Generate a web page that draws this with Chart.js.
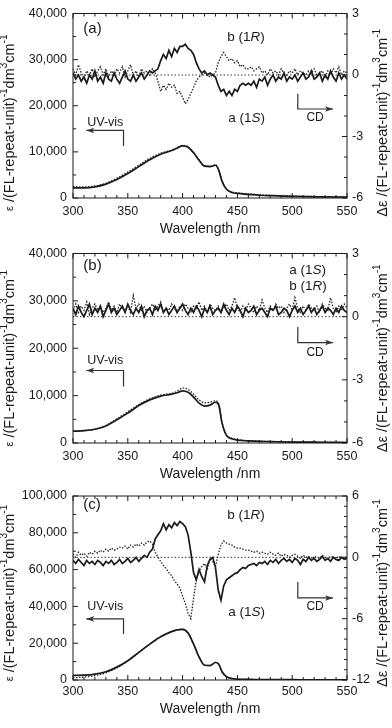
<!DOCTYPE html>
<html>
<head>
<meta charset="utf-8">
<script src="https://cdn.jsdelivr.net/npm/chart.js@4.4.1/dist/chart.umd.min.js"></script>
<style>
  html, body { margin: 0; padding: 0; background: #fff; }
  body { width: 392px; height: 728px; position: relative; overflow: hidden; }
  .panel { position: absolute; left: 0; width: 392px; }
</style>
</head>
<body>
<div class="panel" style="top:0;height:240px"><canvas id="ca"></canvas></div>
<div class="panel" style="top:240px;height:244px"><canvas id="cb"></canvas></div>
<div class="panel" style="top:480px;height:248px"><canvas id="cc"></canvas></div>
<script>
const FONT = '"Liberation Sans", Arial, sans-serif';
const INK = '#1a1a1a';

// wavelengths (nm)
const uvWl = [300,310,320,330,340,350,360,370,380,390,395,400,405,410,415,420,425,430,433,436,440,445,450,460,470,480,500,525,550];
const cdWl = [
  300,302.5,305,307.5,310,312.5,315,317.5,320,322.5,
  325,327.5,330,332.5,335,337.5,340,342.5,345,347.5,
  350,352.5,355,357.5,360,362.5,365,367.5,370,372.5,
  375,377.5,380,382.5,385,387.5,390,392.5,395,397.5,
  400,402.5,405,407.5,410,412.5,415,417.5,420,422.5,
  425,427.5,430,432.5,435,437.5,440,442.5,445,447.5,
  450,452.5,455,457.5,460,462.5,465,467.5,470,472.5,
  475,477.5,480,482.5,485,487.5,490,492.5,495,497.5,
  500,502.5,505,507.5,510,512.5,515,517.5,520,522.5,
  525,527.5,530,532.5,535,537.5,540,542.5,545,547.5,
  550];
const zeroWl = [300, 550];
const zeroDe = [0, 0];

// (a) UV-vis, epsilon
const uvA_a = [2200,2200,2400,3000,4000,5300,6800,8300,9500,10300,10800,11300,11000,9800,8200,6900,6800,7100,6000,3600,1900,1200,1000,800,600,500,350,250,200];
const uvB_a = [2500,2400,2600,3200,4300,5600,7100,8600,9700,10400,10900,11400,11100,9900,8300,7000,6900,7200,6100,3700,2000,1300,1100,900,700,600,400,300,250];
// (a) CD, delta epsilon
const cdA_a = [
  0.1,-0.2,0.0,-0.3,-0.1,-0.4,0.0,-0.2,0.2,-0.3,
  -0.1,-0.4,0.1,-0.2,-0.3,0.1,-0.2,-0.4,-0.1,0.2,
  -0.2,-0.3,0.0,-0.3,-0.1,0.1,-0.2,0.0,0.2,0.1,
  0.2,0.3,0.7,1.0,0.8,1.2,0.9,1.3,1.1,1.4,
  1.4,1.5,1.3,1.2,1.0,0.6,0.3,0.1,0.2,0.0,
  0.1,0.0,-0.1,-0.5,-0.8,-0.7,-1.0,-0.8,-1.0,-0.7,
  -0.8,-0.5,-0.4,-0.5,-0.4,-0.5,-0.3,-0.6,-0.2,-0.3,
  -0.1,-0.5,-0.2,0.0,-0.3,-0.1,-0.2,0.1,-0.3,-0.1,
  -0.2,0.0,-0.3,-0.1,0.1,-0.2,-0.1,0.2,-0.2,-0.1,
  0.1,-0.3,0.0,-0.2,0.2,-0.1,-0.3,0.1,-0.2,0.0,
  -0.2];
const cdB_a = [
  0.3,0.0,0.5,0.1,-0.2,0.2,0.0,0.3,-0.1,0.2,
  0.4,0.0,0.3,-0.1,0.2,0.0,0.3,0.1,0.4,-0.1,
  0.2,0.5,0.0,0.2,-0.1,0.3,0.1,0.2,0.0,0.3,
  0.1,-0.3,-0.8,-0.5,-0.7,-0.4,-0.6,-0.5,-0.9,-0.8,
  -1.1,-1.4,-1.2,-0.9,-0.6,-0.3,-0.1,0.0,0.1,0.0,
  -0.1,0.0,0.1,0.6,0.9,1.1,0.9,0.7,0.8,0.6,
  0.7,0.4,0.5,0.3,0.3,0.4,0.2,0.3,0.4,0.1,
  0.2,0.0,0.3,0.1,0.2,0.0,0.3,0.1,0.0,0.2,
  0.1,0.3,0.0,0.2,0.1,0.0,0.2,0.1,0.3,0.0,
  0.1,0.2,-0.1,0.2,0.0,0.3,0.1,0.4,0.0,0.2,
  0.1];

// (b)
const uvA_b = [2500,2600,2900,3600,4900,6300,7900,9100,9900,10300,10600,11000,10700,9700,8400,7800,8000,8600,8000,4200,1600,900,600,450,350,300,200,150,100];
const uvB_b = [2500,2600,2900,3700,5100,6600,8100,9300,10100,10500,10900,11600,11300,10300,9100,8500,8600,8900,8300,4400,1700,1000,700,500,400,300,250,200,150];
const cdA_b = [
  0.4,0.1,0.5,0.2,0.0,0.3,0.6,0.1,0.4,0.2,
  0.5,0.0,0.3,0.6,0.2,0.4,0.1,0.3,0.5,0.2,
  0.6,0.3,0.1,0.4,0.2,0.5,0.0,0.3,0.4,0.1,
  0.5,0.3,0.6,0.2,0.4,0.1,0.3,0.5,0.2,0.4,
  0.6,0.3,0.1,0.4,0.2,0.5,0.3,0.0,0.4,0.2,
  0.5,0.1,0.3,0.4,0.2,0.6,0.3,0.1,0.4,0.2,
  0.5,0.3,0.0,0.4,0.2,0.3,0.5,0.1,0.3,0.4,
  0.2,0.0,0.4,0.3,0.5,0.1,0.2,0.4,0.3,0.0,
  0.3,0.5,0.2,0.4,0.1,0.3,0.5,0.2,0.4,0.1,
  0.3,0.5,0.2,0.4,0.3,0.1,0.4,0.2,0.5,0.3,
  0.2];
const cdB_b = [
  0.3,0.6,0.2,0.5,0.3,0.7,0.1,0.4,0.6,0.3,
  0.5,0.2,0.4,0.7,0.3,0.5,0.2,0.6,0.4,0.3,
  0.5,0.2,1.0,0.4,0.6,0.3,0.5,0.2,0.4,0.6,
  0.3,0.5,0.7,0.2,0.4,0.3,0.6,0.4,0.2,0.5,
  0.3,0.6,0.4,0.2,0.5,0.4,0.7,0.3,0.5,0.2,
  0.6,0.4,0.3,0.5,0.2,0.4,0.6,0.3,0.5,0.9,
  0.4,0.2,0.5,0.3,0.6,0.4,0.2,0.5,0.3,0.8,
  0.4,0.2,0.5,0.3,0.6,0.4,0.5,0.2,0.4,0.6,
  0.3,0.9,0.4,0.2,0.5,0.3,0.6,0.4,0.3,0.5,
  0.2,0.6,0.4,0.3,0.9,0.4,0.2,0.5,0.3,0.6,
  0.4];

// (c)
const uvA_c = [2500,2600,3200,4500,7000,10500,15000,19500,23500,26300,27200,27500,25500,19500,12500,8000,7800,9500,8500,4500,1800,800,500,300,250,200,150,100,100];
const uvB_c = [1200,1600,2400,3900,6600,10300,14900,19500,23600,26400,27300,27600,25600,19600,12600,8100,7900,9600,8500,4400,1700,700,400,300,200,200,100,100,100];
const cdA_c = [
  -0.3,-0.6,-0.2,-0.5,-0.8,-0.3,-0.6,-0.4,-0.7,-0.3,
  -0.5,-0.8,-0.4,-0.6,-0.3,-0.7,-0.5,-0.2,-0.6,-0.4,
  -0.1,-0.5,-0.3,0.0,-0.4,-0.1,0.2,0.0,0.5,0.8,
  1.8,2.2,2.6,3.3,2.7,3.2,2.9,3.4,3.1,3.5,
  3.3,3.0,2.2,0.5,-1.5,-2.2,-1.2,-1.9,-2.4,-0.8,
  -0.2,0.0,-1.0,-3.2,-4.2,-2.8,-2.2,-2.0,-1.8,-1.6,
  -1.5,-1.2,-1.0,-1.1,-0.8,-0.7,-0.6,-0.8,-0.5,-0.6,
  -0.4,-0.7,-0.3,-0.5,-0.2,-0.6,-0.3,-0.1,-0.4,-0.2,
  -0.5,-0.1,-0.3,-0.7,-0.2,-0.4,0.0,-0.3,-0.1,-0.4,
  -0.2,0.1,-0.3,-0.1,-0.4,0.0,-0.2,-0.3,0.0,-0.2,
  -0.1];
const cdB_c = [
  0.3,0.0,0.5,0.2,0.4,0.1,0.5,0.3,0.6,0.4,
  0.7,0.5,0.8,0.6,0.9,0.7,0.8,1.0,0.9,1.1,
  0.8,1.2,1.0,1.3,1.1,1.4,1.2,1.5,1.6,1.3,
  0.5,0.0,-0.4,-0.8,-1.1,-1.5,-1.8,-2.3,-2.6,-3.0,
  -3.8,-4.5,-5.5,-6.0,-4.0,-2.2,-1.4,-0.9,-0.6,-1.2,
  -0.1,-0.4,-0.9,0.3,1.2,1.6,1.4,1.3,1.2,1.0,
  0.9,0.9,0.8,0.7,0.7,0.6,0.5,0.6,0.4,0.5,
  0.4,0.3,0.5,0.3,0.2,0.4,0.1,0.3,0.2,0.0,
  0.2,0.3,0.1,-0.1,0.2,0.0,0.1,-0.2,0.1,0.0,
  -0.1,0.2,0.0,-0.2,0.1,0.0,-0.1,0.1,0.0,-0.1,
  0.1];

// text pieces
const epsTitle = [{t:'ε', s:11}, {t:' /(FL-repeat-unit)'}, {t:'-1', s:10, up:5.5}, {t:'dm'}, {t:'3', s:10, up:5.5}, {t:'cm'}, {t:'-1', s:10, up:5.5}];
const dEpsTitle = [{t:'Δε /(FL-repeat-unit)'}, {t:'-1', s:10, up:5.5}, {t:'dm'}, {t:'3', s:10, up:5.5}, {t:'cm'}, {t:'-1', s:10, up:5.5}];
const lab1R = [{t:'b (1'}, {t:'R', it:true}, {t:')'}];
const lab1S = [{t:'a (1'}, {t:'S', it:true}, {t:')'}];

function fontOf(seg, base) {
  return (seg.it ? 'italic ' : '') + (seg.s || base) + 'px ' + FONT;
}
function drawRich(ctx, segs, x, y, align, base) {
  let w = 0;
  segs.forEach(s => { ctx.font = fontOf(s, base); w += ctx.measureText(s.t).width; });
  let cx = align === 'center' ? x - w / 2 : x;
  ctx.textAlign = 'left';
  ctx.textBaseline = 'middle';
  segs.forEach(s => {
    ctx.font = fontOf(s, base);
    ctx.fillText(s.t, cx, y - (s.up || 0));
    cx += ctx.measureText(s.t).width;
  });
}

const deco = {
  id: 'deco',
  afterDraw(chart, args, o) {
    const {ctx, chartArea: a, scales} = chart;
    const x = scales.x, y = scales.y, y2 = scales.y2;
    ctx.save();
    ctx.strokeStyle = INK;
    ctx.fillStyle = INK;
    ctx.lineWidth = 1;
    ctx.strokeRect(a.left, a.top, a.right - a.left, a.bottom - a.top);
    ctx.beginPath();
    x.ticks.forEach(t => {
      const p = x.getPixelForValue(t.value);
      const l = t.value % 50 === 0 ? 5 : 3;
      ctx.moveTo(p, a.bottom); ctx.lineTo(p, a.bottom - l);
      ctx.moveTo(p, a.top); ctx.lineTo(p, a.top + l);
    });
    y.ticks.forEach(t => {
      const p = y.getPixelForValue(t.value);
      const l = t.value % o.epsMajor === 0 ? 5 : 3;
      ctx.moveTo(a.left, p); ctx.lineTo(a.left + l, p);
    });
    y2.ticks.forEach(t => {
      const p = y2.getPixelForValue(t.value);
      const l = t.value % o.dMajor === 0 ? 5 : 3;
      ctx.moveTo(a.right, p); ctx.lineTo(a.right - l, p);
    });
    ctx.stroke();

    // rotated axis titles
    const cy = (a.top + a.bottom) / 2 + o.titleShift;
    [[epsTitle, 10], [dEpsTitle, 383]].forEach(([segs, tx]) => {
      ctx.save();
      ctx.translate(tx, cy);
      ctx.rotate(-Math.PI / 2);
      drawRich(ctx, segs, 0, 0, 'center', 14.5);
      ctx.restore();
    });

    // notes and arrows
    ctx.strokeStyle = '#333';
    ctx.fillStyle = INK;
    o.notes.forEach(n => {
      if (n.arrow) {
        const pts = n.arrow.map(([wx, wy]) => [x.getPixelForValue(wx), y.getPixelForValue(wy)]);
        ctx.lineWidth = 1.2;
        ctx.beginPath();
        pts.forEach(([px, py], i) => i ? ctx.lineTo(px, py) : ctx.moveTo(px, py));
        ctx.stroke();
        const [tx, ty] = pts[pts.length - 1];
        const [fx, fy] = pts[pts.length - 2];
        const ang = Math.atan2(ty - fy, tx - fx);
        ctx.save();
        ctx.translate(tx, ty);
        ctx.rotate(ang);
        ctx.fillStyle = '#333';
        ctx.beginPath();
        ctx.moveTo(0, 0); ctx.lineTo(-8, -2.8); ctx.lineTo(-6, 0); ctx.lineTo(-8, 2.8);
        ctx.closePath();
        ctx.fill();
        ctx.restore();
      } else {
        drawRich(ctx, n.text, x.getPixelForValue(n.x), y.getPixelForValue(n.y), n.align || 'left', n.size);
      }
    });
    ctx.restore();
  }
};

function pts(xs, ys) {
  return xs.map((v, i) => ({x: v, y: ys[i]}));
}

const panels = [
  {id: 'ca', uvA: uvA_a, uvB: uvB_a, cdA: cdA_a, cdB: cdB_a,
   epsMax: 40000, epsStep: 5000, epsMajor: 10000, dMin: -6, dMax: 3, dMajor: 3,
   padTop: 7, xH: 42, xPad: 6, titlePb: 2, titleShift: 17,
   notes: [
     {text: [{t:'(a)'}], x: 309.4, y: 36600, size: 15},
     {text: lab1R, x: 440.7, y: 34800, size: 13.5},
     {text: lab1S, x: 441.6, y: 17200, size: 13.5},
     {text: [{t:'UV-vis'}], x: 313, y: 16300, size: 12.5},
     {arrow: [[346.1, 11300], [346.1, 14650], [312.1, 14650]]},
     {arrow: [[505.1, 22600], [505.1, 19300], [537.3, 19300]]},
     {text: [{t:'CD'}], x: 520.9, y: 17400, size: 12, align: 'center'}
   ]},
  {id: 'cb', uvA: uvA_b, uvB: uvB_b, cdA: cdA_b, cdB: cdB_b,
   epsMax: 40000, epsStep: 5000, epsMajor: 10000, dMin: -6, dMax: 3, dMajor: 3,
   padTop: 12, xH: 41, xPad: 6, titlePb: 1, titleShift: 10,
   notes: [
     {text: [{t:'(b)'}], x: 309.4, y: 37300, size: 15},
     {text: lab1S, x: 497.2, y: 36400, size: 13.5},
     {text: lab1R, x: 497.2, y: 33100, size: 13.5},
     {text: [{t:'UV-vis'}], x: 313, y: 17400, size: 12.5},
     {arrow: [[346.1, 11900], [346.1, 15300], [312.1, 15300]]},
     {arrow: [[505.1, 24500], [505.1, 21200], [537.3, 21200]]},
     {text: [{t:'CD'}], x: 520.9, y: 19100, size: 12, align: 'center'}
   ]},
  {id: 'cc', uvA: uvA_c, uvB: uvB_c, cdA: cdA_c, cdB: cdB_c,
   epsMax: 100000, epsStep: 10000, epsMajor: 20000, dMin: -12, dMax: 6, dMajor: 6,
   padTop: 16, xH: 48, xPad: 4, titlePb: 10, titleShift: 5,
   notes: [
     {text: [{t:'(c)'}], x: 309.4, y: 95100, size: 15},
     {text: lab1R, x: 440.7, y: 89700, size: 13.5},
     {text: lab1S, x: 441.6, y: 37000, size: 13.5},
     {text: [{t:'UV-vis'}], x: 313, y: 39700, size: 12.5},
     {arrow: [[346.1, 25000], [346.1, 33200], [312.1, 33200]]},
     {arrow: [[505.1, 53300], [505.1, 44600], [537.3, 44600]]},
     {text: [{t:'CD'}], x: 520.9, y: 39700, size: 12, align: 'center'}
   ]}
];

const solid = {borderColor: INK, borderWidth: 1.7, pointRadius: 0, fill: false};
const dotted = {borderColor: '#222', borderWidth: 1.3, borderDash: [1.5, 1.5], pointRadius: 0, fill: false};
const tickFont = {family: FONT, size: 12.5};
const noGrid = {display: false, drawTicks: false};

panels.forEach(p => {
  new Chart(document.getElementById(p.id), {
    type: 'line',
    data: {
      datasets: [
        {...solid, data: pts(uvWl, p.uvA), yAxisID: 'y', cubicInterpolationMode: 'monotone'},
        {...dotted, data: pts(uvWl, p.uvB), yAxisID: 'y', cubicInterpolationMode: 'monotone'},
        {...dotted, borderWidth: 0.9, borderDash: [1.5, 2], data: pts(zeroWl, zeroDe), yAxisID: 'y2'},
        {...dotted, data: pts(cdWl, p.cdB), yAxisID: 'y2'},
        {...solid, data: pts(cdWl, p.cdA), yAxisID: 'y2'}
      ]
    },
    options: {
      responsive: true,
      maintainAspectRatio: false,
      animation: false,
      devicePixelRatio: 1,
      layout: {padding: {top: p.padTop, left: 0, right: 0, bottom: 0}},
      plugins: {
        legend: {display: false},
        tooltip: {enabled: false},
        deco: {notes: p.notes, epsMajor: p.epsMajor, dMajor: p.dMajor, titleShift: p.titleShift}
      },
      scales: {
        x: {
          type: 'linear', min: 300, max: 550,
          grid: noGrid, border: {display: false},
          ticks: {stepSize: 10, autoSkip: false, maxRotation: 0, padding: p.xPad, color: INK, font: tickFont,
                  callback: v => v % 50 === 0 ? String(v) : ''},
          title: {display: true, text: 'Wavelength /nm', color: INK, font: {family: FONT, size: 14},
                  padding: {top: 0, bottom: p.titlePb}},
          afterFit: s => { s.height = p.xH; }
        },
        y: {
          position: 'left', min: 0, max: p.epsMax,
          grid: noGrid, border: {display: false},
          ticks: {stepSize: p.epsStep, autoSkip: false, padding: 6, color: INK, font: tickFont,
                  callback: v => v % p.epsMajor === 0 ? v.toLocaleString('en-US') : ''},
          afterFit: s => { s.width = 73; }
        },
        y2: {
          position: 'right', min: p.dMin, max: p.dMax,
          grid: noGrid, border: {display: false},
          ticks: {stepSize: 1, autoSkip: false, padding: 5, color: INK, font: tickFont,
                  callback: v => v % p.dMajor === 0 ? String(v) : ''},
          afterFit: s => { s.width = 45; }
        }
      }
    },
    plugins: [deco]
  });
});
</script>
</body>
</html>
